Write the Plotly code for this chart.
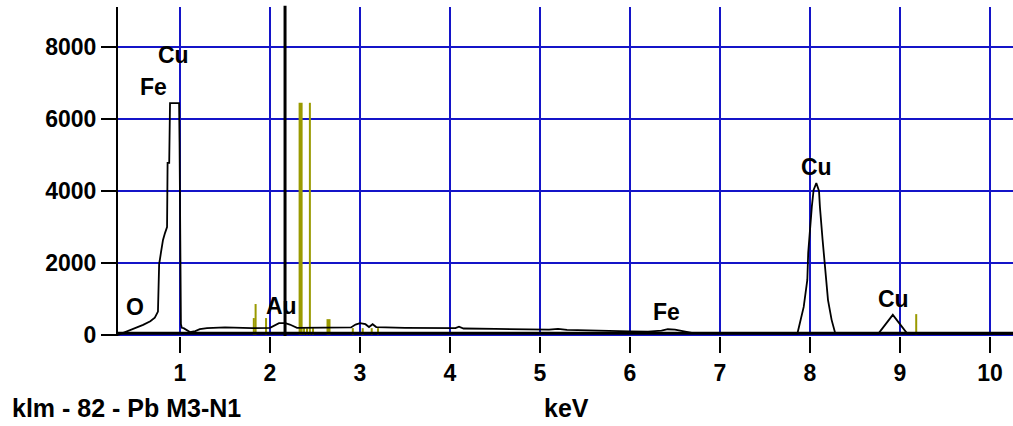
import plotly.graph_objects as go

# ---- data ----
energy_kev = [0.311, 0.36, 0.44, 0.52, 0.59, 0.67, 0.72, 0.755, 0.768, 0.789, 0.811, 0.833, 0.856,
              0.862, 0.88, 0.889, 0.99, 0.995, 1.005, 1.01, 1.02, 1.04, 1.11, 1.17, 1.22, 1.3, 1.5,
              1.8, 2.0, 2.05, 2.1, 2.17, 2.22, 2.3, 2.5, 2.9, 2.95, 3.0, 3.06, 3.1, 3.14, 3.18, 3.5,
              4.0, 4.06, 4.1, 4.15, 4.5, 5.0, 5.1, 5.2, 5.3, 6.0, 6.2, 6.35, 6.42, 6.5, 6.6, 6.7,
              7.0, 7.3, 7.8, 7.86, 7.93, 7.97, 7.98, 8.0, 8.02, 8.04, 8.07, 8.1, 8.11, 8.14, 8.17,
              8.2, 8.24, 8.28, 8.76, 8.92, 9.08, 10.26]
counts = [0, 50, 140, 200, 280, 380, 480, 650, 1960, 2300, 2640, 2830, 3000,
          4780, 4780, 6440, 6440, 5360, 2700, 300, 200, 190, 80, 110, 160, 190, 210,
          190, 200, 260, 330, 330, 290, 200, 200, 210, 290, 330, 300, 220, 300, 220, 200,
          190, 190, 230, 180, 170, 150, 150, 170, 140, 100, 95, 120, 160, 150, 90, 50,
          45, 40, 35, 40, 780, 1530, 2280, 3000, 3560, 4030, 4220, 4000, 3560, 2640, 1720,
          970, 420, 50, 40, 560, 40, 30]

# Pb KLM marker lines
marker_kev = [1.82, 1.84, 1.956, 2.34, 2.378, 2.411, 2.443, 2.478, 2.65, 2.92, 3.03, 3.13, 3.2, 9.18]
marker_height = [470, 860, 470, 6450, 190, 190, 6450, 190, 440, 190, 190, 190, 190, 580]
marker_thick = [False, False, False, True, False, False, False, False, True, False, False, False, False, False]

peak_labels = ["O", "Fe", "Cu", "Au", "Fe", "Cu", "Cu"]
peak_label_kev = [0.50, 0.70, 0.933, 2.133, 6.41, 8.067, 8.933]
peak_label_counts = [778, 6890, 7780, 806, 640, 4670, 1000]

cursor_kev = 2.167
x_ticks = [1, 2, 3, 4, 5, 6, 7, 8, 9, 10]
y_ticks = [0, 2000, 4000, 6000, 8000]
x_title = "keV"
info_text = "klm - 82 - Pb M3-N1"

FONT = "Liberation Sans, Arial, sans-serif"
BLUE = "#1414c8"
OLIVE = "#9a9a00"

fig = go.Figure()

# marker lines
for thick in (False, True):
    xs, ys = [], []
    for k, h, t in zip(marker_kev, marker_height, marker_thick):
        if t == thick:
            xs += [k, k, None]
            ys += [0, h, None]
    fig.add_trace(go.Scatter(x=xs, y=ys, mode="lines",
                             line=dict(color=OLIVE, width=4 if thick else 2),
                             hoverinfo="skip", showlegend=False))

# spectrum
fig.add_trace(go.Scatter(x=energy_kev, y=counts, mode="lines",
                         line=dict(color="black", width=1.8), showlegend=False))

x_min, x_max = 0.311, 0.311 + 895 / 90
y_top = 9111

fig.update_layout(
    width=1013, height=426,
    margin=dict(l=118, r=0, t=7, b=90),
    paper_bgcolor="white", plot_bgcolor="white",
    font=dict(family=FONT, size=23, color="black", weight="bold"),
    xaxis=dict(range=[x_min, x_max], tickvals=x_ticks, ticktext=[str(v) for v in x_ticks],
               showgrid=True, gridcolor=BLUE, gridwidth=2, zeroline=False,
               ticks="outside", ticklen=16, tickwidth=2, tickcolor="black",
               showline=False, tickfont=dict(family=FONT, size=23, weight="bold")),
    yaxis=dict(range=[-28, y_top], tickvals=y_ticks, ticktext=[str(v) for v in y_ticks],
               showgrid=True, gridcolor=BLUE, gridwidth=2, zeroline=False,
               ticks="outside", ticklen=15, tickwidth=2, tickcolor="black",
               showline=True, linecolor="black", linewidth=2,
               tickfont=dict(family=FONT, size=23, weight="bold")),
)

# baseline and cursor
fig.add_shape(type="line", xref="x", yref="y", x0=x_min, x1=x_max, y0=45, y1=45,
              line=dict(color="black", width=3), layer="above")
fig.add_shape(type="line", xref="x", yref="paper", x0=cursor_kev, x1=cursor_kev, y0=0, y1=1.004,
              line=dict(color="black", width=3), layer="above")

for t, xk, yc in zip(peak_labels, peak_label_kev, peak_label_counts):
    fig.add_annotation(x=xk, y=yc, text=t, showarrow=False, xanchor="center", yanchor="middle",
                       font=dict(family=FONT, size=23, color="black", weight="bold"))

fig.add_annotation(xref="paper", yref="paper", x=(10 - 118) / 895, y=(335 - 407) / 329,
                   text=info_text, showarrow=False, xanchor="left", yanchor="middle",
                   font=dict(family=FONT, size=25, color="black", weight="bold"))
fig.add_annotation(xref="paper", yref="paper", x=(566 - 118) / 895, y=(335 - 407) / 329,
                   text=x_title, showarrow=False, xanchor="center", yanchor="middle",
                   font=dict(family=FONT, size=25, color="black", weight="bold"))

fig.write_html("out.html", config={"displayModeBar": False},
               post_script="document.body.style.margin='0px';document.body.style.overflow='hidden';")
